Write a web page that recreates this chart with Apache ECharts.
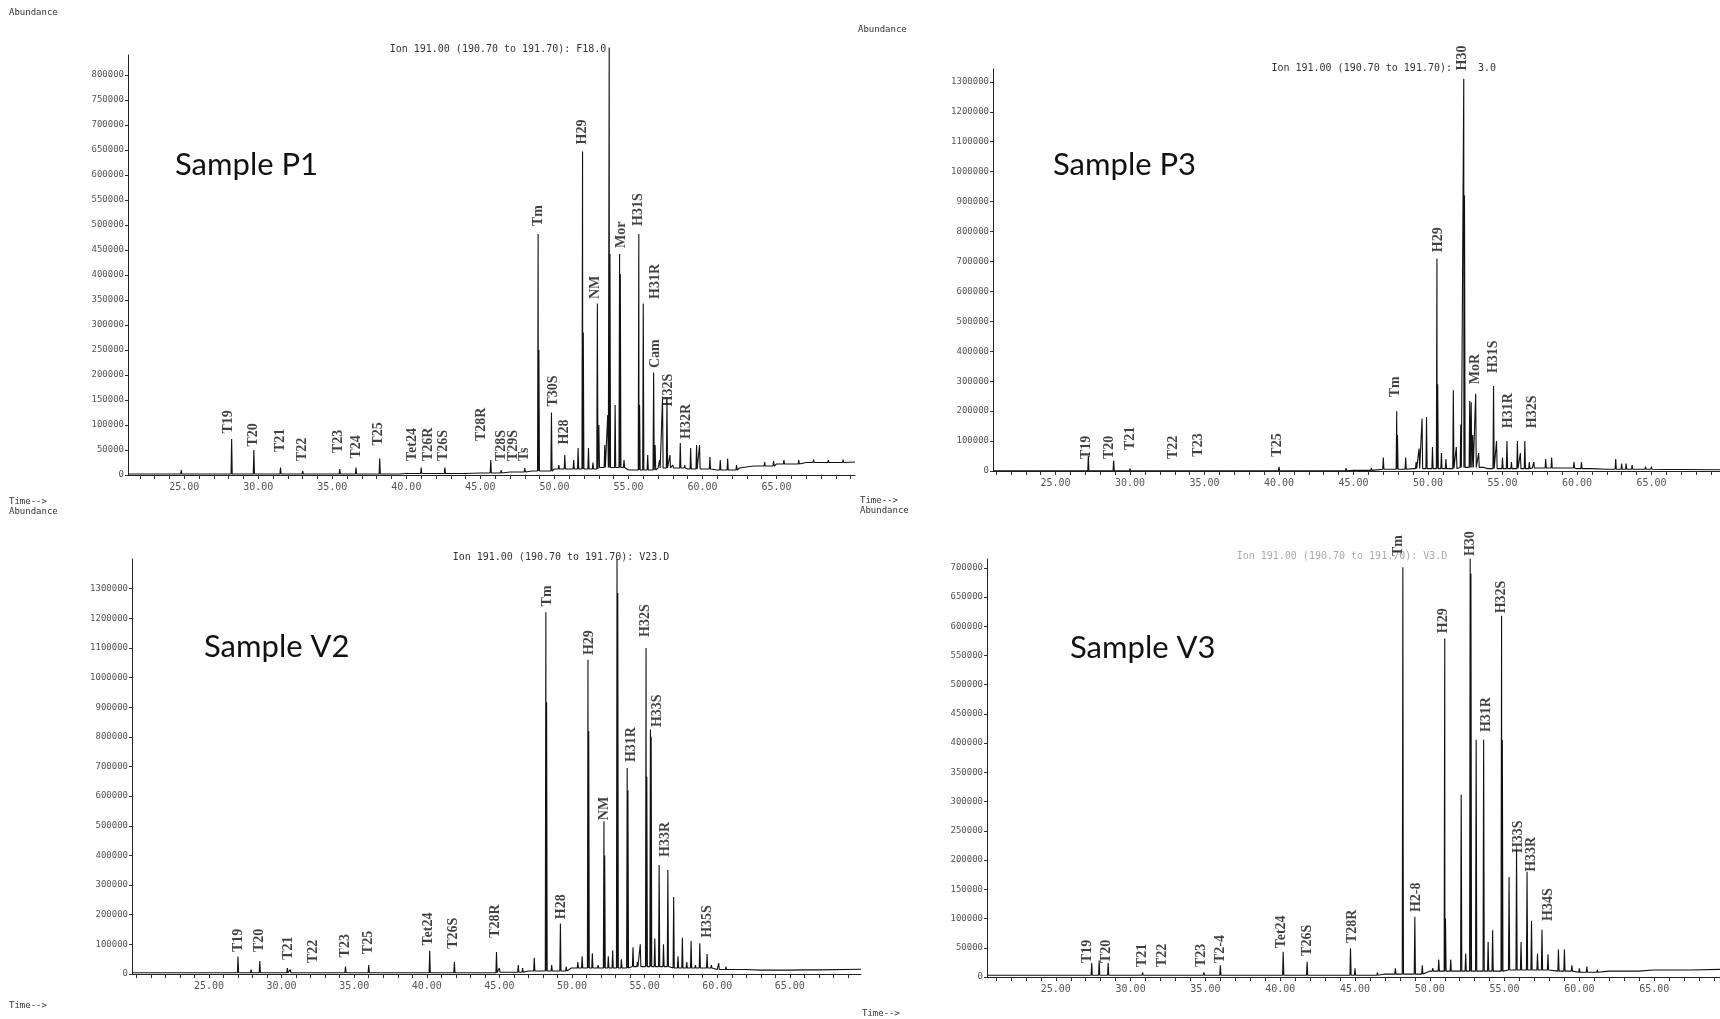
<!DOCTYPE html>
<html>
<head>
<meta charset="utf-8">
<script src="https://cdn.jsdelivr.net/npm/echarts@6/dist/echarts.min.js"></script>
<style>
  html, body { margin: 0; padding: 0; background: #fff; }
  #chart { width: 1720px; height: 1019px; }
</style>
</head>
<body>
<div id="chart"></div>
<script>
// tick labels (retention time, min) shared by all panels
var xLabelValues = [25, 30, 35, 40, 45, 50, 55, 60, 65];
var xTickValues = [20, 21, 22, 23, 24, 25, 26, 27, 28, 29, 30, 31, 32, 33, 34, 35, 36, 37, 38, 39, 40,
  41, 42, 43, 44, 45, 46, 47, 48, 49, 50, 51, 52, 53, 54, 55, 56, 57, 58, 59, 60,
  61, 62, 63, 64, 65, 66, 67, 68, 69, 70];

// ---- Sample P1 ----
var p1YTicks = [0, 50000, 100000, 150000, 200000, 250000, 300000, 350000, 400000, 450000, 500000,
  550000, 600000, 650000, 700000, 750000, 800000];
var p1PeakTimes = [22.5, 23.5, 24.3, 24.8, 26.5, 27.2, 28.2, 28.7, 29.2, 29.7, 31.5, 32.3, 33.0, 34.5, 35.5,
  36.6, 38.2, 39.5, 41.0, 41.7, 42.6, 44.0, 45.7, 46.4, 47.1, 47.6, 48.0,
  48.9, 48.95, 49.8, 50.3, 50.7, 51.3, 51.6, 51.9, 51.95, 52.3, 52.6, 52.9, 53.0, 53.4, 53.6, 53.7, 53.75,
  54.1, 54.4, 54.45, 54.7, 55.2, 55.7, 55.75, 56.0, 56.3, 56.7, 56.8, 57.1, 57.3, 57.6, 57.8, 58.0,
  58.5, 58.8, 59.2, 59.6, 59.8, 60.5, 61.2, 61.7, 62.3, 63.5, 64.2, 64.8, 65.5, 66.5, 67.5, 68.5, 69.5];
var p1PeakHeights = [5000, 4000, 5000, 10000, 3000, 4000, 72000, 6000, 4000, 50000, 15000, 5000, 8000, 4000, 12000,
  15000, 33000, 4000, 15000, 6000, 15000, 5000, 30000, 10000, 8000, 10000, 14000,
  482000, 250000, 125000, 20000, 40000, 30000, 54000, 647000, 285000, 54000, 25000, 343000, 100000, 60000, 120000, 855000, 442000,
  140000, 442000, 402000, 30000, 10000, 482000, 140000, 343000, 40000, 205000, 60000, 30000, 153000, 153000, 40000, 20000,
  64000, 20000, 54000, 60000, 60000, 36000, 30000, 33000, 20000, 22000, 26000, 28000, 30000, 30000, 31000, 30000, 31000];
var p1BaseTimes = [21.2, 30, 40, 45, 47, 48.5, 50, 53, 55, 57, 59, 61, 62.5, 63.5, 65, 67, 70.3];
var p1BaseValues = [2000, 2000, 3000, 4000, 6000, 8000, 12000, 15000, 10000, 14000, 12000, 10000, 14000, 18000, 22000, 25000, 26000];
var p1LabelNames = ['T19', 'T20', 'T21', 'T22', 'T23', 'T24', 'T25', 'Tet24', 'T26R', 'T26S', 'T28R', 'T28S', 'T29S', 'Ts',
  'Tm', 'T30S', 'H28', 'H29', 'NM', 'Mor', 'H31S', 'H31R', 'Cam', 'H32S', 'H32R'];
var p1LabelTimes = [28.0, 29.7, 31.5, 33.0, 35.4, 36.6, 38.1, 40.4, 41.5, 42.5, 45.1, 46.4, 47.2, 48.0,
  48.9, 49.9, 50.7, 51.9, 52.8, 54.5, 55.7, 56.8, 56.8, 57.7, 58.9];
var p1LabelLevels = [83000, 57000, 46000, 28000, 44000, 33000, 59000, 28000, 28000, 28000, 68000, 28000, 28000, 28000,
  498000, 137000, 61000, 661000, 352000, 454000, 498000, 352000, 214000, 137000, 72000];

// ---- Sample P3 ----
var p3YTicks = [0, 100000, 200000, 300000, 400000, 500000, 600000, 700000, 800000, 900000, 1000000,
  1100000, 1200000, 1300000];
var p3PeakTimes = [22.5, 24.0, 25.5, 26.2, 27.2, 27.8, 28.9, 30.0, 31.0, 32.0, 33.5, 34.6, 35.8, 37.0, 38.5,
  40.0, 41.5, 43.0, 44.5, 45.5, 46.2, 47.0, 47.9, 47.95, 48.5, 49.2, 49.4, 49.6, 49.9, 50.3,
  50.6, 50.65, 50.9, 51.2, 51.7, 51.9, 52.2, 52.4, 52.45, 52.8, 52.9, 53.0, 53.2, 53.4, 53.8,
  54.4, 54.6, 55.0, 55.3, 55.6, 56.0, 56.2, 56.5, 56.8, 57.1, 57.9, 58.3, 59.0, 59.8, 60.3,
  61.0, 62.0, 62.6, 63.0, 63.3, 63.7, 64.6, 65.0, 66.0, 67.0];
var p3PeakHeights = [3000, 4000, 5000, 3000, 50000, 5000, 35000, 8000, 4000, 5000, 5000, 6000, 4000, 4000, 4000,
  14000, 4000, 4000, 10000, 8000, 10000, 45000, 200000, 120000, 45000, 30000, 75000, 175000, 180000, 80000,
  710000, 290000, 60000, 40000, 270000, 80000, 155000, 1310000, 920000, 235000, 230000, 120000, 258000, 60000, 10000,
  284000, 100000, 45000, 100000, 30000, 100000, 60000, 100000, 30000, 30000, 40000, 45000, 12000, 30000, 30000,
  8000, 10000, 40000, 25000, 25000, 20000, 15000, 15000, 8000, 10000];
var p3BaseTimes = [20.8, 45, 47, 49, 52, 54, 57, 60, 62, 66, 69.6];
var p3BaseValues = [1000, 2000, 6000, 8000, 12000, 8000, 10000, 8000, 6000, 5000, 4000];
var p3LabelNames = ['T19', 'T20', 'T21', 'T22', 'T23', 'T25', 'Tm', 'H29', 'H30', 'MoR', 'H31S', 'H31R', 'H32S'];
var p3LabelTimes = [27.1, 28.6, 30.0, 32.9, 34.6, 39.9, 47.8, 50.7, 52.3, 53.2, 54.4, 55.4, 57.0];
var p3LabelLevels = [40000, 40000, 70000, 40000, 48000, 48000, 246000, 731000, 1338000, 290000, 327000, 143000, 143000];

// ---- Sample V2 ----
var v2YTicks = [0, 100000, 200000, 300000, 400000, 500000, 600000, 700000, 800000, 900000, 1000000,
  1100000, 1200000, 1300000];
var v2PeakTimes = [21.0, 22.5, 23.5, 24.5, 25.5, 27.0, 27.9, 28.5, 29.3, 30.4, 30.6, 31.5, 32.2, 33.0, 34.4,
  36.0, 37.0, 38.5, 40.2, 41.9, 43.5, 44.8, 45.0, 46.3, 46.6, 47.4, 48.2, 48.25, 48.6, 49.2,
  49.6, 50.0, 50.4, 50.7, 51.1, 51.15, 51.4, 51.8, 52.2, 52.25, 52.5, 52.8, 53.1, 53.15, 53.4,
  53.8, 53.85, 54.2, 54.5, 54.7, 55.1, 55.15, 55.4, 55.45, 55.7, 56.0, 56.3, 56.6, 57.0, 57.3,
  57.6, 57.9, 58.2, 58.5, 58.8, 59.3, 59.6, 60.1, 60.6, 61.2, 62.0, 63.0, 64.0, 65.0, 66.0, 67.0];
var v2PeakHeights = [5000, 6000, 5000, 8000, 4000, 59000, 15000, 44000, 5000, 20000, 15000, 6000, 8000, 5000, 25000,
  30000, 5000, 4000, 78000, 40000, 5000, 74000, 20000, 30000, 20000, 55000, 1220000, 917000, 30000, 170000,
  25000, 20000, 40000, 60000, 1060000, 820000, 70000, 30000, 515000, 400000, 60000, 80000, 1400000, 1285000, 50000,
  695000, 620000, 90000, 40000, 100000, 1100000, 665000, 825000, 800000, 120000, 368000, 100000, 351000, 260000, 60000,
  122000, 40000, 111000, 30000, 104000, 67000, 30000, 37000, 25000, 20000, 18000, 15000, 15000, 14000, 12000, 12000];
var v2BaseTimes = [19.7, 45, 47, 50, 54, 57, 60, 63, 66, 69.9];
var v2BaseValues = [4000, 6000, 10000, 20000, 25000, 20000, 15000, 13000, 14000, 16000];
var v2LabelNames = ['T19', 'T20', 'T21', 'T22', 'T23', 'T25', 'Tet24', 'T26S', 'T28R', 'Tm', 'H28', 'H29', 'NM',
  'H31R', 'H32S', 'H33S', 'H33R', 'H35S'];
var v2LabelTimes = [27.0, 28.5, 30.5, 32.2, 34.4, 36.0, 40.1, 41.8, 44.7, 48.3, 49.3, 51.2, 52.2,
  54.1, 55.05, 55.9, 56.4, 59.3];
var v2LabelLevels = [74000, 74000, 48000, 37000, 56000, 67000, 96000, 85000, 122000, 1240000, 185000, 1076000, 519000,
  715000, 1137000, 833000, 395000, 122000];

// ---- Sample V3 ----
var v3YTicks = [0, 50000, 100000, 150000, 200000, 250000, 300000, 350000, 400000, 450000, 500000,
  550000, 600000, 650000, 700000];
var v3PeakTimes = [22.0, 23.5, 25.0, 26.5, 27.4, 27.9, 28.5, 29.5, 30.8, 31.9, 33.0, 34.9, 36.0, 37.5, 39.0,
  40.2, 41.8, 43.0, 44.7, 45.0, 46.5, 47.7, 48.2, 48.22, 49.0, 49.5, 50.2, 50.6, 51.0, 51.05,
  51.4, 52.1, 52.4, 52.7, 52.75, 53.1, 53.6, 53.9, 54.2, 54.8, 54.85, 55.3, 55.8, 56.1, 56.5,
  56.8, 57.2, 57.5, 57.9, 58.6, 59.0, 59.5, 60.0, 60.5, 61.2, 62.0, 63.0, 64.0, 65.0, 66.0, 67.5];
var v3PeakHeights = [3000, 4000, 3000, 4000, 24000, 28000, 24000, 4000, 8000, 5000, 4000, 8000, 20000, 3000, 4000,
  43000, 26000, 4000, 49000, 15000, 8000, 15000, 701000, 224000, 103000, 20000, 15000, 30000, 579000, 100000,
  30000, 312000, 40000, 716000, 690000, 406000, 406000, 60000, 80000, 618000, 406000, 171000, 218000, 60000, 180000,
  96000, 40000, 81000, 39000, 47000, 47000, 20000, 15000, 18000, 12000, 10000, 9000, 10000, 9000, 9000, 10000];
var v3BaseTimes = [20.4, 40, 47, 50, 55, 58, 60, 62, 65, 69.4];
var v3BaseValues = [3000, 3000, 5000, 10000, 12000, 10000, 8000, 10000, 12000, 13000];
var v3LabelNames = ['T19', 'T20', 'T21', 'T22', 'T23', 'T2-4', 'Tet24', 'T26S', 'T28R', 'Tm', 'H2-8', 'H29', 'H30',
  'H31R', 'H32S', 'H33S', 'H33R', 'H34S'];
var v3LabelTimes = [27.1, 28.4, 30.8, 32.1, 34.7, 36.0, 40.1, 41.8, 44.8, 47.9, 49.1, 50.9, 52.7,
  53.8, 54.8, 55.9, 56.8, 57.9];
var v3LabelLevels = [24000, 24000, 17000, 17000, 17000, 24000, 49000, 36000, 58000, 720000, 111000, 588000, 720000,
  419000, 622000, 212000, 180000, 96000];

// foot of a peak = last baseline sample at or before it
function baseAt(bt, bv, t) {
  var v = bv[0];
  for (var i = 0; i < bt.length; i++) {
    if (bt[i] <= t) v = bv[i];
  }
  return v;
}

function buildTrace(pt, ph, bt, bv) {
  var pts = [];
  for (var i = 0; i < bt.length; i++) pts.push([bt[i], bv[i]]);
  for (var j = 0; j < pt.length; j++) {
    var foot = baseAt(bt, bv, pt[j]);
    pts.push([pt[j] - 0.04, foot], [pt[j], ph[j]], [pt[j] + 0.04, foot]);
  }
  pts.sort(function (a, b) { return a[0] - b[0]; });
  return pts;
}

function buildLabels(names, times, levels) {
  return names.map(function (n, i) {
    return { name: n, value: [times[i], levels[i]] };
  });
}

var panels = [
  { grid: { left: 128, top: 55, width: 727, height: 420 }, xmin: 21.2, xmax: 70.3, ymax: 840000, yTicks: p1YTicks,
    trace: buildTrace(p1PeakTimes, p1PeakHeights, p1BaseTimes, p1BaseValues),
    labels: buildLabels(p1LabelNames, p1LabelTimes, p1LabelLevels) },
  { grid: { left: 993, top: 69, width: 727, height: 402 }, xmin: 20.8, xmax: 69.6, ymax: 1343000, yTicks: p3YTicks,
    trace: buildTrace(p3PeakTimes, p3PeakHeights, p3BaseTimes, p3BaseValues),
    labels: buildLabels(p3LabelNames, p3LabelTimes, p3LabelLevels) },
  { grid: { left: 132, top: 559, width: 729, height: 415 }, xmin: 19.7, xmax: 69.9, ymax: 1400000, yTicks: v2YTicks,
    trace: buildTrace(v2PeakTimes, v2PeakHeights, v2BaseTimes, v2BaseValues),
    labels: buildLabels(v2LabelNames, v2LabelTimes, v2LabelLevels) },
  { grid: { left: 987, top: 559, width: 733, height: 418 }, xmin: 20.4, xmax: 69.4, ymax: 715000, yTicks: v3YTicks,
    trace: buildTrace(v3PeakTimes, v3PeakHeights, v3BaseTimes, v3BaseValues),
    labels: buildLabels(v3LabelNames, v3LabelTimes, v3LabelLevels) }
];

var grids = [], xAxes = [], yAxes = [], series = [];
panels.forEach(function (p, k) {
  grids.push(p.grid);
  xAxes.push({
    type: 'value', gridIndex: k, min: p.xmin, max: p.xmax,
    axisLine: { onZero: false, lineStyle: { color: '#222', width: 1 } },
    axisTick: {
      customValues: xTickValues.filter(function (v) { return v > p.xmin && v < p.xmax; }),
      length: 4, lineStyle: { color: '#333' }
    },
    axisLabel: {
      customValues: xLabelValues,
      formatter: function (v) { return v.toFixed(2); },
      fontFamily: 'DejaVu Sans Mono', fontSize: 10, color: '#555', margin: 7
    },
    splitLine: { show: false }
  });
  yAxes.push({
    type: 'value', gridIndex: k, min: 0, max: p.ymax,
    axisLine: { show: true, lineStyle: { color: '#222', width: 1 } },
    axisTick: { show: true, customValues: p.yTicks, length: 3, lineStyle: { color: '#333' } },
    axisLabel: {
      customValues: p.yTicks,
      formatter: function (v) { return String(v); },
      fontFamily: 'DejaVu Sans Mono', fontSize: 9, color: '#555', margin: 4
    },
    splitLine: { show: false }
  });
  series.push({
    type: 'line', xAxisIndex: k, yAxisIndex: k, data: p.trace,
    symbol: 'none', showSymbol: false, clip: false, silent: true,
    lineStyle: { color: '#111', width: 1.1 }
  });
  series.push({
    type: 'scatter', xAxisIndex: k, yAxisIndex: k, data: p.labels,
    symbolSize: 0, silent: true, clip: false,
    label: {
      show: true, formatter: '{b}', position: 'inside', rotate: 90,
      align: 'left', verticalAlign: 'middle',
      fontFamily: 'Liberation Serif', fontWeight: 'bold', fontSize: 14, color: '#111'
    }
  });
});

function txt(x, y, text, font, fill, align) {
  return { type: 'text', x: x, y: y, silent: true,
    style: { text: text, font: font, fill: fill || '#222', textAlign: align || 'left', textVerticalAlign: 'middle' } };
}
var small = '9px "DejaVu Sans Mono"';
var mono = '10px "DejaVu Sans Mono"';
var big = '31px Lato';

var chart = echarts.init(document.getElementById('chart'));
chart.setOption({
  animation: false,
  backgroundColor: '#fff',
  grid: grids,
  xAxis: xAxes,
  yAxis: yAxes,
  series: series,
  graphic: [
    txt(9, 13, 'Abundance', small, '#333'),
    txt(498, 49, 'Ion 191.00 (190.70 to 191.70): F18.0', mono, '#333', 'center'),
    txt(858, 30, 'Abundance', small, '#333'),
    txt(1452, 68, 'Ion 191.00 (190.70 to 191.70):', mono, '#333', 'right'),
    txt(1478, 68, '3.0', mono, '#333'),
    txt(9, 502, 'Time-->', small, '#333'),
    txt(9, 512, 'Abundance', small, '#333'),
    txt(860, 501, 'Time-->', small, '#333'),
    txt(860, 511, 'Abundance', small, '#333'),
    txt(561, 557, 'Ion 191.00 (190.70 to 191.70): V23.D', mono, '#333', 'center'),
    txt(1342, 556, 'Ion 191.00 (190.70 to 191.70): V3.D', mono, '#aaa', 'center'),
    txt(9, 1006, 'Time-->', small, '#333'),
    txt(862, 1014, 'Time-->', small, '#333'),
    txt(175, 165, 'Sample P1', big, '#111'),
    txt(1053, 165, 'Sample P3', big, '#111'),
    txt(204, 647, 'Sample V2', big, '#111'),
    txt(1070, 648, 'Sample V3', big, '#111')
  ]
});
</script>
</body>
</html>
